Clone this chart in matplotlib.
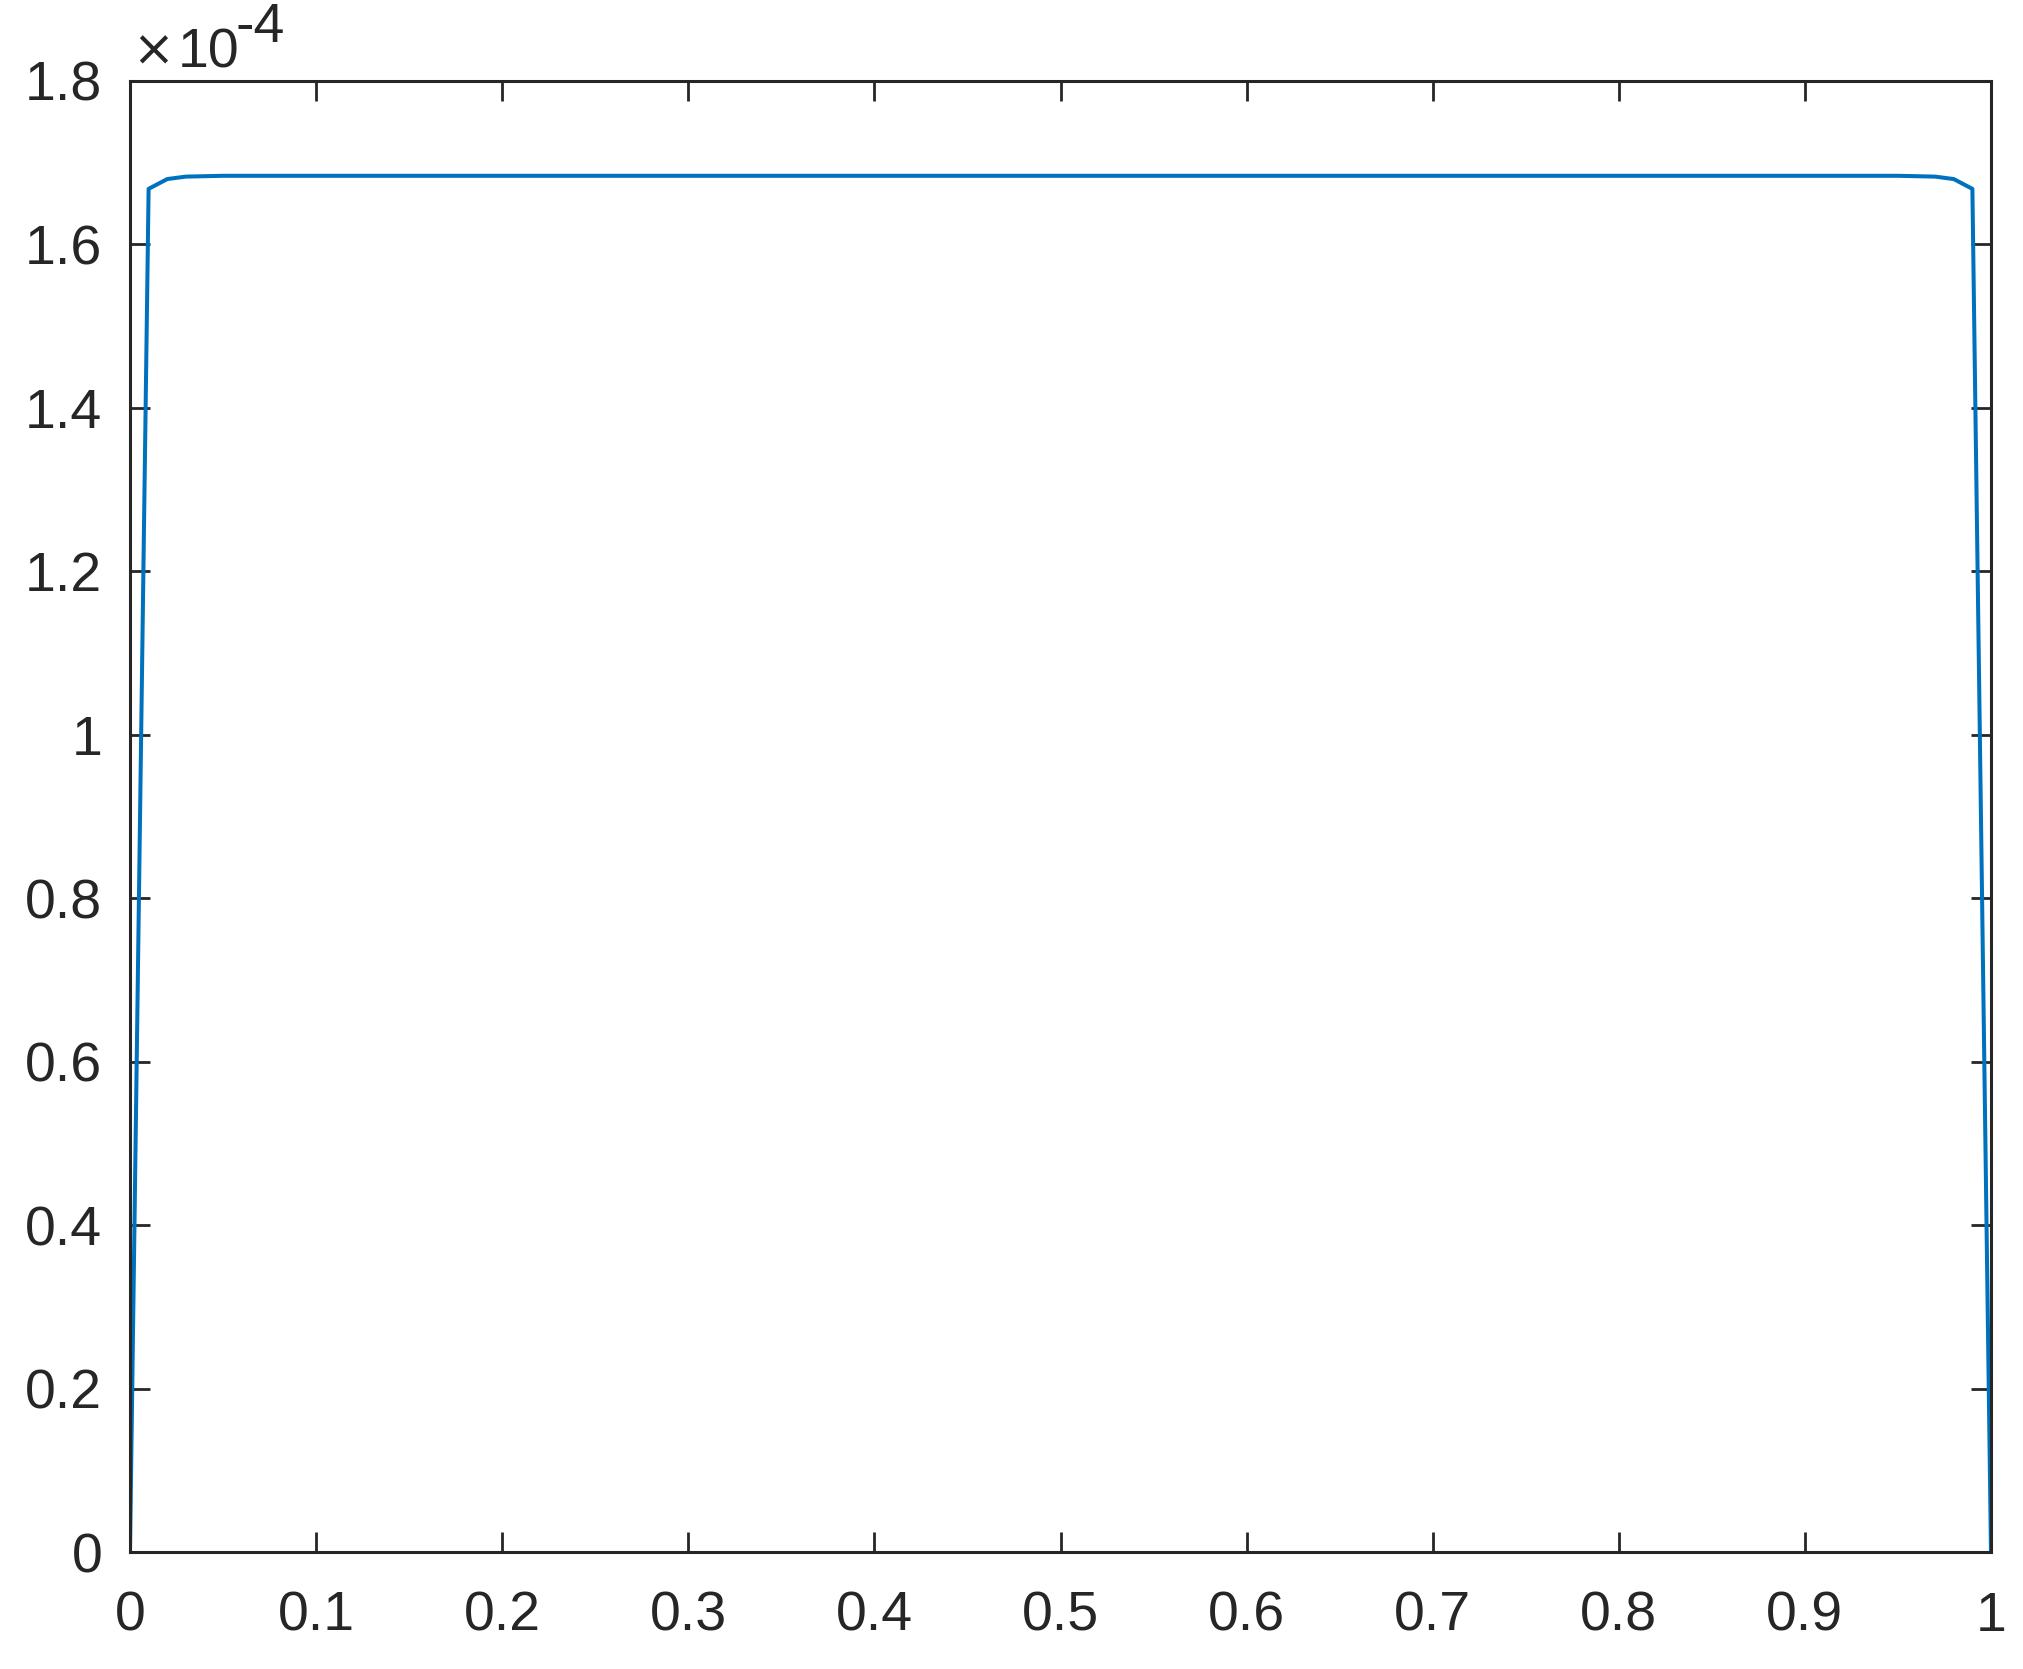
import numpy as np
import matplotlib
matplotlib.use('Agg')
import matplotlib.pyplot as plt
from matplotlib.ticker import FuncFormatter

# values
x = [0.0, 0.01, 0.02, 0.03, 0.05, 0.95, 0.97, 0.98, 0.99, 1.0]
y = [0.0, 1.668e-4, 1.680e-4, 1.683e-4, 1.684e-4, 1.684e-4, 1.683e-4, 1.680e-4, 1.668e-4, 0.0]
xticks = [0, 0.1, 0.2, 0.3, 0.4, 0.5, 0.6, 0.7, 0.8, 0.9, 1.0]
yticks = [0, 0.2e-4, 0.4e-4, 0.6e-4, 0.8e-4, 1.0e-4, 1.2e-4, 1.4e-4, 1.6e-4, 1.8e-4]

plt.rcParams['font.family'] = ['Liberation Sans', 'DejaVu Sans']

dark = '#262626'
W, H = 2023, 1669
fig = plt.figure(figsize=(W / 200, H / 200), dpi=200)
ax = fig.add_axes([130/W, 1 - 1552/H, (1991-130)/W, (1552-81)/H])

ax.plot(x, y, color='#0072BD', lw=1.45)

ax.set_xlim(0, 1)
ax.set_ylim(0, 1.8e-4)
ax.set_xticks(xticks)
ax.set_yticks(yticks)
ax.xaxis.set_major_formatter(FuncFormatter(lambda v, p: '{:g}'.format(round(v, 2))))
ax.yaxis.set_major_formatter(FuncFormatter(lambda v, p: '{:g}'.format(round(v * 1e4, 2))))

ax.tick_params(direction='in', length=7.2, width=1.0, colors=dark, labelsize=20,
               top=True, right=True)
ax.tick_params(axis='y', pad=10)
ax.tick_params(axis='x', pad=14)
for s in ax.spines.values():
    s.set_color(dark)
    s.set_linewidth(1.1)

# exponent label, MATLAB style
fig.text(132/W, 1 - 66/H, '\u00d7', fontsize=18, color=dark, family='DejaVu Sans',
         ha='left', va='baseline')
fig.text(178/W, 1 - 68/H, '10', fontsize=20, color=dark, ha='left', va='baseline')
fig.text(236/W, 1 - 42/H, '-4', fontsize=20, color=dark, ha='left', va='baseline')

fig.savefig('out.png', dpi=200, facecolor='white')
